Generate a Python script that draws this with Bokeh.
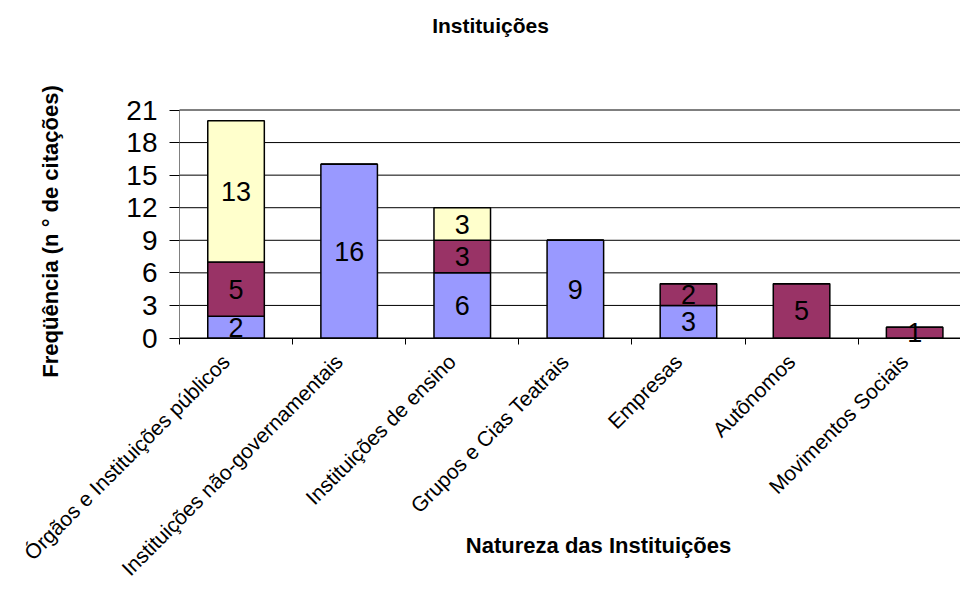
import math
from bokeh.plotting import figure
from bokeh.models import ColumnDataSource, Range1d, FixedTicker, Label
from bokeh.core.properties import value
from bokeh.embed import file_html
from bokeh.resources import INLINE

# ---- data ----
categories = [
    "Órgãos e Instituições públicos",
    "Instituições não-governamentais",
    "Instituições de ensino",
    "Grupos e Cias Teatrais",
    "Empresas",
    "Autônomos",
    "Movimentos Sociais",
]
serie_1 = [2, 16, 6, 9, 3, 0, 0]
serie_2 = [5, 0, 3, 0, 2, 5, 1]
serie_3 = [13, 0, 3, 0, 0, 0, 0]
y_ticks = [0, 3, 6, 9, 12, 15, 18, 21]

title_text = "Instituições"
x_title = "Natureza das Instituições"
y_title = "Freqüência (n ° de citações)"

colors = ["#9999FF", "#993366", "#FFFFCC"]
FONT = "Liberation Sans"

W, H = 960, 589
X0, Y0, Y21 = 179.0, 337.5, 109.5      # pixel positions of x=0, y=0, y=21
CAT_PX = 113.1                          # pixels per category
PX_Y = (Y0 - Y21) / 21.0
LABEL_SHIFT = 0.09                      # category labels sit slightly left of centre

n = len(categories)
xc = [i + 0.5 for i in range(n)]
source = ColumnDataSource(dict(x=xc, s1=serie_1, s2=serie_2, s3=serie_3))

p = figure(width=W, height=H, output_backend="svg", toolbar_location=None,
           x_range=Range1d(-X0 / CAT_PX, (W - X0) / CAT_PX),
           y_range=Range1d(-(H - Y0) / PX_Y, 21 + Y21 / PX_Y),
           min_border=0)
p.outline_line_color = None
p.background_fill_color = "white"
p.border_fill_color = "white"
p.xgrid.visible = False
p.ygrid.visible = False

# horizontal gridlines at tick values across the category area
p.segment(x0=[0] * len(y_ticks), x1=[n] * len(y_ticks), y0=y_ticks, y1=y_ticks,
          line_color="black", line_width=1)

p.vbar_stack(["s1", "s2", "s3"], x="x", width=0.5, color=colors,
             line_color="black", line_width=1.5, source=source)

# value labels centred in each segment
lx, ly, lt = [], [], []
for i in range(n):
    base = 0
    for s in (serie_1, serie_2, serie_3):
        v = s[i]
        if v > 0:
            lx.append(xc[i]); ly.append(base + v / 2); lt.append(str(v))
        base += v
p.text(x=lx, y=ly, text=lt, text_align="center", text_baseline="middle",
       text_font=value(FONT), text_font_size="27px", text_color="black")

# y axis (inside frame at x=0)
yax = p.yaxis[0]
yax.fixed_location = 0
yax.bounds = (0, 21)
yax.ticker = FixedTicker(ticks=y_ticks)
yax.axis_line_color = "#808080"
yax.major_tick_line_color = "black"
yax.major_tick_out = 10
yax.major_tick_in = 0
yax.minor_tick_line_color = None
yax.major_label_text_font = FONT
yax.major_label_text_font_size = "28px"
yax.major_label_text_color = "black"
yax.major_label_standoff = 12

# x axis (inside frame at y=0)
label_pos = [round(x - LABEL_SHIFT, 4) for x in xc]
xax = p.xaxis[0]
xax.fixed_location = 0
xax.bounds = (0, n)
xax.ticker = FixedTicker(ticks=label_pos, minor_ticks=list(range(n + 1)))
xax.major_label_overrides = {x: c for x, c in zip(label_pos, categories)}
xax.axis_line_color = "black"
xax.major_tick_line_color = None
xax.minor_tick_line_color = "black"
xax.minor_tick_out = 6
xax.minor_tick_in = 0
xax.major_label_orientation = math.pi / 4
xax.major_label_text_font = FONT
xax.major_label_text_font_size = "21px"
xax.major_label_text_color = "black"
xax.major_label_standoff = 14

# titles
p.add_layout(Label(x=(490 - X0) / CAT_PX, y=(Y0 - 25) / PX_Y, text=title_text,
                   text_align="center", text_baseline="middle", text_font=FONT,
                   text_font_style="bold", text_font_size="21px", text_color="black"))
p.add_layout(Label(x=(598 - X0) / CAT_PX, y=-(545 - Y0) / PX_Y, text=x_title,
                   text_align="center", text_baseline="middle", text_font=FONT,
                   text_font_style="bold", text_font_size="22px", text_color="black"))
p.add_layout(Label(x=(50 - X0) / CAT_PX, y=(Y0 - 231) / PX_Y, text=y_title,
                   text_align="center", text_baseline="middle", angle=math.pi / 2,
                   text_font=FONT, text_font_style="bold", text_font_size="22px",
                   text_color="black"))

open("out.html", "w").write(file_html(p, INLINE))
